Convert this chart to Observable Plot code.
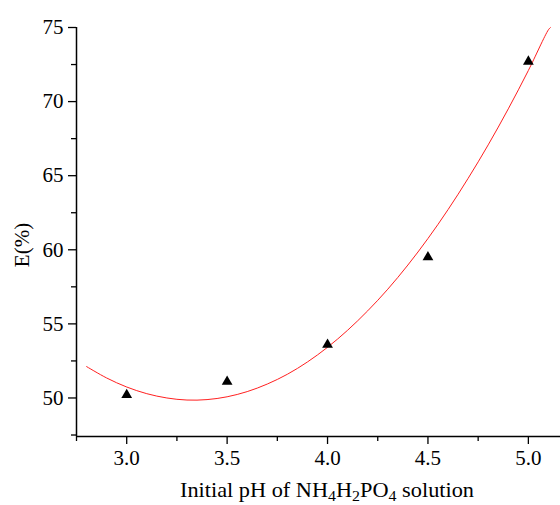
<!DOCTYPE html>
<html>
<head>
<meta charset="utf-8">
<script src="https://cdn.jsdelivr.net/npm/d3@7"></script>
<script src="https://cdn.jsdelivr.net/npm/@observablehq/plot@0.6"></script>
<style>
  html, body { margin: 0; padding: 0; background: #fff; }
  #chart svg { display: block; }
</style>
</head>
<body>
<div id="chart"></div>
<script>
// Measured data (triangles)
const pH = [3.0, 3.5, 4.0, 4.5, 5.0];
const E = [50.2, 51.1, 53.6, 59.5, 72.7];

// Red fitted curve
const fitX = [2.80, 2.90, 3.00, 3.10, 3.20, 3.30, 3.40, 3.50, 3.60, 3.70, 3.80, 3.90, 4.00, 4.10, 4.20, 4.30, 4.40, 4.50, 4.60, 4.70, 4.80, 4.90, 5.00, 5.10, 5.11];
const fitY = [52.12, 51.35, 50.74, 50.29, 50.00, 49.86, 49.89, 50.08, 50.43, 50.94, 51.60, 52.43, 53.42, 54.57, 55.88, 57.34, 58.97, 60.76, 62.71, 64.82, 67.08, 69.51, 72.10, 74.85, 75.0];

// Tick values
const xMajor = [3.0, 3.5, 4.0, 4.5, 5.0];
const xMinor = [2.75, 3.25, 3.75, 4.25, 4.75];
const yMajor = [50, 55, 60, 65, 70, 75];
const yMinor = [47.5, 52.5, 57.5, 62.5, 67.5, 72.5];

const yLabel = "E(%)";
const xLabelParts = [["Initial pH of NH", false], ["4", true], ["H", false], ["2", true], ["PO", false], ["4", true], [" solution", false]];

const points = pH.map((x, i) => ({x, y: E[i]}));
const curve = fitX.map((x, i) => ({x, y: fitY[i]}));

const FONT = "'Liberation Serif', 'Times New Roman', serif";

const chart = Plot.plot({
  width: 560,
  height: 505,
  marginLeft: 76,
  marginTop: 27,
  marginRight: 0,
  marginBottom: 69,
  x: {domain: [2.75, 5.16]},
  y: {domain: [47.4, 75]},
  style: {fontFamily: FONT, fontSize: "20px", color: "black", background: "white"},
  marks: [
    Plot.axisX({ticks: xMajor, tickSize: 8, tickPadding: 6, tickFormat: d3.format(".1f"), label: null, strokeWidth: 1.3, fontSize: 21, fill: "black"}),
    Plot.axisX({ticks: xMinor, tickSize: 5, text: null, label: null, strokeWidth: 1.3}),
    Plot.axisY({ticks: yMajor, tickSize: 8, tickPadding: 5, tickFormat: d3.format("d"), label: null, strokeWidth: 1.3, fontSize: 21, fill: "black"}),
    Plot.axisY({ticks: yMinor, tickSize: 5, text: null, label: null, strokeWidth: 1.3}),
    Plot.ruleY([47.4], {stroke: "black", strokeWidth: 1.5}),
    Plot.ruleX([2.75], {stroke: "black", strokeWidth: 1.5}),
    Plot.line(curve, {x: "x", y: "y", stroke: "#ff2020", strokeWidth: 1, curve: "catmull-rom"}),
    Plot.dot(points, {x: "x", y: "y", symbol: "triangle", r: 4, fill: "black", stroke: "none"})
  ]
});

document.getElementById("chart").appendChild(chart);

const svg = d3.select(chart);

// y-axis title
svg.append("text")
  .attr("transform", "translate(29,245) rotate(-90)")
  .attr("text-anchor", "middle")
  .attr("fill", "black")
  .style("font-family", FONT)
  .style("font-size", "21px")
  .text(yLabel);

// x-axis title with subscripts
const t = svg.append("text")
  .attr("x", 180)
  .attr("y", 497)
  .attr("text-anchor", "start")
  .attr("fill", "black")
  .attr("textLength", 294)
  .attr("lengthAdjust", "spacingAndGlyphs")
  .style("font-family", FONT)
  .style("font-size", "21px");
xLabelParts.forEach(([s, sub], i) => {
  const prevSub = i > 0 && xLabelParts[i - 1][1];
  const ts = t.append("tspan").text(s);
  if (sub) ts.style("font-size", "15px");
  ts.attr("dy", sub && !prevSub ? 4 : (!sub && prevSub ? -4 : 0));
});
</script>
</body>
</html>
